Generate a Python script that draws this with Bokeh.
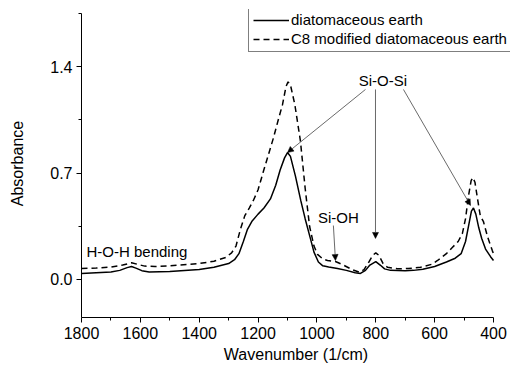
from bokeh.plotting import figure
from bokeh.models import (Range1d, FixedTicker, PrintfTickFormatter, Legend, LegendItem,
                          Arrow, NormalHead, Label)
from bokeh.embed import file_html
from bokeh.resources import INLINE

# Wavenumber (1/cm) and absorbance, diatomaceous earth
wn_de = [1800, 1750, 1700, 1670, 1645, 1630, 1615, 1595, 1570, 1500, 1400, 1350, 1300, 1280,
         1265, 1250, 1236, 1220, 1200, 1180, 1158, 1140, 1125, 1110, 1100, 1090, 1073, 1055,
         1040, 1025, 1010, 995, 980, 960, 930, 900, 870, 852, 835, 820, 800, 785, 770, 750,
         700, 672, 640, 600, 560, 530, 510, 495, 485, 475, 468, 460, 450, 440, 427, 410, 400]
abs_de = [0.040, 0.045, 0.050, 0.060, 0.078, 0.085, 0.075, 0.058, 0.050, 0.052, 0.065, 0.080,
          0.105, 0.130, 0.170, 0.250, 0.330, 0.385, 0.430, 0.470, 0.530, 0.620, 0.720, 0.800,
          0.835, 0.810, 0.680, 0.520, 0.400, 0.290, 0.180, 0.115, 0.090, 0.082, 0.072, 0.060,
          0.045, 0.040, 0.060, 0.095, 0.118, 0.095, 0.070, 0.060, 0.058, 0.060, 0.068, 0.085,
          0.115, 0.140, 0.170, 0.250, 0.350, 0.450, 0.470, 0.430, 0.340, 0.270, 0.200, 0.150,
          0.125]

# C8 modified diatomaceous earth
wn_c8 = [1800, 1750, 1700, 1660, 1630, 1610, 1585, 1550, 1500, 1400, 1350, 1310, 1290, 1275,
         1260, 1245, 1230, 1216, 1200, 1182, 1165, 1148, 1130, 1117, 1105, 1098, 1090, 1075,
         1056, 1040, 1025, 1010, 998, 980, 964, 937, 910, 880, 855, 840, 825, 810, 800, 790,
         775, 760, 726, 690, 648, 610, 590, 560, 540, 520, 506, 495, 485, 476, 470, 463, 455,
         445, 434, 420, 404, 400]
abs_c8 = [0.072, 0.075, 0.082, 0.095, 0.110, 0.100, 0.088, 0.085, 0.090, 0.105, 0.120, 0.145,
          0.175, 0.220, 0.330, 0.420, 0.470, 0.520, 0.590, 0.710, 0.820, 0.930, 1.060, 1.150,
          1.270, 1.300, 1.280, 1.150, 0.910, 0.600, 0.350, 0.220, 0.165, 0.135, 0.125, 0.118,
          0.095, 0.065, 0.048, 0.065, 0.110, 0.160, 0.175, 0.160, 0.105, 0.080, 0.070, 0.072,
          0.080, 0.100, 0.125, 0.170, 0.210, 0.250, 0.300, 0.400, 0.550, 0.650, 0.670, 0.640,
          0.540, 0.420, 0.380, 0.280, 0.190, 0.170]

x_ticks = [1800, 1600, 1400, 1200, 1000, 800, 600, 400]
x_minor = [1700, 1500, 1300, 1100, 900, 700, 500]
y_ticks = [0.0, 0.7, 1.4]
y_minor = [0.35, 1.05, 1.75]

series_names = ["diatomaceous earth", "C8 modified diatomaceous earth"]

# annotations: (text, wavenumber, absorbance)
ann_texts = ["Si-O-Si", "Si-OH", "H-O-H bending"]
ann_x = [776, 927, 1783]
ann_y = [1.312, 0.405, 0.184]
# arrows: start (x, y) -> end (x, y)
arrow_x0 = [835, 801, 706, 944]
arrow_y0 = [1.25, 1.25, 1.25, 0.355]
arrow_x1 = [1100, 801, 478, 937]
arrow_y1 = [0.835, 0.27, 0.487, 0.125]

FONT = "Liberation Sans"

p = figure(width=511, height=371, output_backend="svg", toolbar_location=None,
           x_range=Range1d(1800, 342.2), y_range=Range1d(-0.25, 1.776),
           min_border_left=81, min_border_right=1, min_border_top=9, min_border_bottom=54)
p.outline_line_color = None
p.xgrid.visible = False
p.ygrid.visible = False
p.background_fill_color = "white"

r1 = p.line(wn_de, abs_de, line_color="black", line_width=1.5)
r2 = p.line(wn_c8, abs_c8, line_color="black", line_width=1.5, line_dash="6 4")

for ax in (p.xaxis[0], p.yaxis[0]):
    ax.axis_line_color = "black"
    ax.axis_line_width = 1
    ax.major_tick_in = 0
    ax.major_tick_out = 5
    ax.minor_tick_in = 0
    ax.minor_tick_out = 3
    ax.major_tick_line_color = "black"
    ax.minor_tick_line_color = "black"
    ax.major_label_text_font = FONT
    ax.major_label_text_font_size = "16px"
    ax.major_label_text_color = "black"
    ax.axis_label_text_font = FONT
    ax.axis_label_text_font_size = "16px"
    ax.axis_label_text_font_style = "normal"
    ax.axis_label_text_color = "black"

p.xaxis[0].ticker = FixedTicker(ticks=x_ticks, minor_ticks=x_minor)
p.yaxis[0].ticker = FixedTicker(ticks=y_ticks, minor_ticks=y_minor)
p.xaxis[0].bounds = (400, 1800)
p.yaxis[0].bounds = (-0.25, 1.75)
p.yaxis[0].formatter = PrintfTickFormatter(format="%.1f")
p.xaxis[0].axis_label = "Wavenumber (1/cm)"
p.yaxis[0].axis_label = "Absorbance"
p.xaxis[0].major_label_standoff = 4
p.xaxis[0].axis_label_standoff = 4
p.yaxis[0].major_label_standoff = 4
p.yaxis[0].axis_label_standoff = 21

legend = Legend(items=[LegendItem(label=series_names[0], renderers=[r1]),
                       LegendItem(label=series_names[1], renderers=[r2])],
                location=(167, 265), orientation="vertical")
legend.label_text_font = FONT
legend.label_text_font_size = "15px"
legend.label_text_color = "black"
legend.label_height = 16
legend.glyph_height = 16
legend.glyph_width = 36
legend.label_standoff = 2
legend.padding = 4
legend.spacing = 2
legend.margin = 0
legend.border_line_color = "black"
legend.border_line_width = 1
legend.background_fill_alpha = 1
p.add_layout(legend, "center")

for i in range(len(arrow_x0)):
    p.add_layout(Arrow(x_start=arrow_x0[i], y_start=arrow_y0[i], x_end=arrow_x1[i], y_end=arrow_y1[i],
                       line_color="#444444", line_width=0.8,
                       end=NormalHead(size=6, fill_color="black", line_color="black", line_width=0.5)))

for t, x, y in zip(ann_texts, ann_x, ann_y):
    p.add_layout(Label(x=x, y=y, text=t, text_font=FONT, text_font_size="15px",
                       text_color="black",
                       text_align="left" if t.startswith("H-O-H") else "center",
                       text_baseline="middle"))

open("out.html", "w").write(file_html(p, INLINE))
